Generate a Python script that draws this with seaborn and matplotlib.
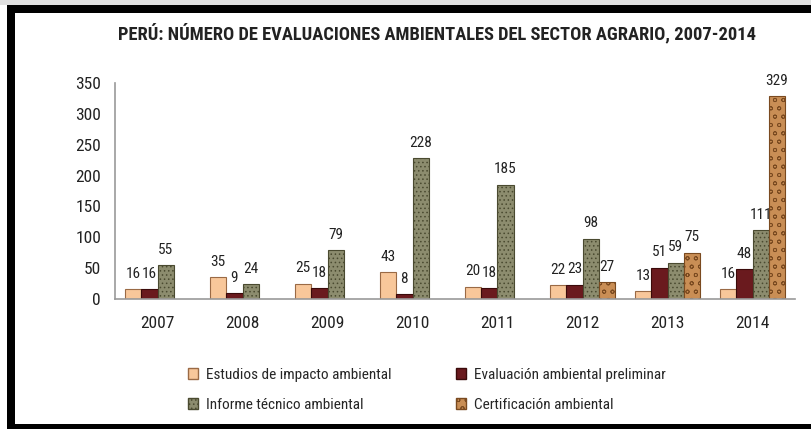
import numpy as np
import pandas as pd
import matplotlib
matplotlib.use("Agg")
import matplotlib.pyplot as plt
import seaborn as sns
from matplotlib.patches import Rectangle, Patch

years = ["2007", "2008", "2009", "2010", "2011", "2012", "2013", "2014"]
series = ["Estudios de impacto ambiental", "Evaluación ambiental preliminar",
          "Informe técnico ambiental", "Certificación ambiental"]
estudios = [16, 35, 25, 43, 20, 22, 13, 16]
evaluacion = [16, 9, 18, 8, 18, 23, 51, 48]
informe = [55, 24, 79, 228, 185, 98, 59, 111]
certificacion = [np.nan, np.nan, np.nan, np.nan, np.nan, 27, 75, 329]

title = "PERÚ: NÚMERO DE EVALUACIONES AMBIENTALES DEL SECTOR AGRARIO, 2007-2014"

values = [estudios, evaluacion, informe, certificacion]
rows = []
for s, vals in zip(series, values):
    for y, v in zip(years, vals):
        rows.append({"Año": y, "Serie": s, "Valor": v})
df = pd.DataFrame(rows)

sns.set_theme(style="white")
plt.rcParams['font.family'] = ['Liberation Sans Narrow', 'Roboto Condensed',
                               'Archivo Narrow', 'DejaVu Sans']
plt.rcParams['hatch.linewidth'] = 0.6

colors = ["#F8C79A", "#6A1A1E", "#8C8C6E", "#C98E55"]
edges = ["#9A6A45", "#3A0A0A", "#4A4A30", "#7A4A20"]
hatches = [None, None, "....", "oo"]

fig = plt.figure(figsize=(8.11, 4.29), dpi=100)
ax = fig.add_axes([115/811, 1 - 299/429, 680/811, (299-83)/429])

sns.barplot(data=df, x="Año", y="Valor", hue="Serie", hue_order=series,
            palette=colors, width=0.76, ax=ax, legend=False, saturation=1)

for i, cont in enumerate(ax.containers):
    for bar in cont:
        bar.set_edgecolor(edges[i])
        bar.set_linewidth(0.8)
        if hatches[i]:
            bar.set_hatch(hatches[i])
            bar._hatch_color = matplotlib.colors.to_rgba(edges[i])
    ax.bar_label(cont, fmt="%d", padding=6, fontsize=11, color="#222222")

ax.set_ylim(0, 350)
ax.set_yticks(range(0, 351, 50))
ax.set_xlim(-0.5, 7.5)
ax.set_xlabel("")
ax.set_ylabel("")
ax.tick_params(axis='both', labelsize=12.5, length=0, colors="#222222")
ax.tick_params(axis='y', pad=10)
ax.tick_params(axis='x', pad=12)
for s in ["top", "right"]:
    ax.spines[s].set_visible(False)
for s in ["left", "bottom"]:
    ax.spines[s].set_color("#999999")
    ax.spines[s].set_linewidth(1.2)

fig.text(437/811, 1 - 33/429, title, ha="center", va="center", fontsize=13.3,
         fontweight="bold", color="#222222")

handles = [Patch(facecolor=colors[i], edgecolor=edges[i], hatch=hatches[i], label=series[i])
           for i in range(4)]
order = [0, 2, 1, 3]
fig.legend([handles[i] for i in order], [series[i] for i in order],
           ncol=2, loc="center left", bbox_to_anchor=(174/811, 1 - 390/429),
           frameon=False, fontsize=11, handlelength=0.7, handleheight=0.7,
           columnspacing=4.2, labelspacing=1.05, handletextpad=0.5)

# frame of the image
fig.patches.append(Rectangle((0, 1 - 5/429), 1, 5/429, transform=fig.transFigure,
                             facecolor="#E0E0E0", edgecolor="none", zorder=9))
fig.patches.append(Rectangle((7/811, 1 - 13/429), 1, 8/429, transform=fig.transFigure,
                             facecolor="black", edgecolor="none", zorder=10))
fig.patches.append(Rectangle((7/811, 0), 8/811, 1 - 5/429, transform=fig.transFigure,
                             facecolor="black", edgecolor="none", zorder=10))
fig.patches.append(Rectangle((7/811, 0), 1, 5/429, transform=fig.transFigure,
                             facecolor="black", edgecolor="none", zorder=10))

fig.savefig("out.png", dpi=100)
